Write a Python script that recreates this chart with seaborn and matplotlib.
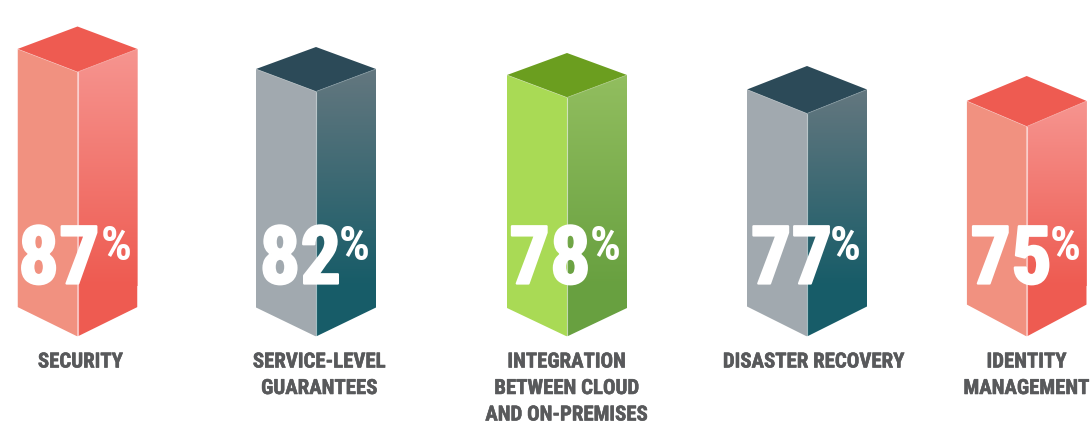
#!/usr/bin/env python3
import numpy as np
import pandas as pd
import seaborn as sns
import matplotlib.pyplot as plt
from matplotlib.colors import LinearSegmentedColormap
from matplotlib.patches import Polygon
from matplotlib import font_manager as fm
from matplotlib import patheffects as pe

# ====== Data ======
LABELS = ["SECURITY", "SERVICE-LEVEL\nGUARANTEES", "INTEGRATION\nBETWEEN CLOUD\nAND ON-PREMISES",
          "DISASTER RECOVERY", "IDENTITY\nMANAGEMENT"]
PERCENTS = [87, 82, 78, 77, 75]
# the columns in the picture are not strictly proportional, so heights are read off it
COLUMN_HEIGHTS = [264.5, 245, 239, 223, 210]
COLUMN_CENTERS = [77.5, 316, 567, 807, 1026.7]

# ====== Style ======
RED = ("#F19180", "#F69590", "#EE5B51", "#EE5B51")
SLATE = ("#A1A9AF", "#64777F", "#175C68", "#2C4A58")
GREEN = ("#A9DA55", "#92BE5F", "#68A040", "#6B9E1F")
COLORS = [RED, SLATE, GREEN, SLATE, RED]  # left face, right top, right bottom, lid
TEXT_COLOR = "#58595B"

FACE_W = 60
BOTTOM_RISES = [29.5, 29, 28.5, 30, 32]
TOP_RISES = [23, 22.5, 22.5, 24, 25.5]
GRADIENT_END = 50  # below this the right face has one colour
DIGIT_SHIFT = [22, 25, 23.5, 25, 25]
LABEL_SHIFT = [3, 3.5, 0, 7, 0]

sns.set_theme(style="white")
installed = {f.name for f in fm.fontManager.ttflist}
narrow = [n for n in ["Roboto Condensed", "Archivo Narrow", "Liberation Sans Narrow"] if n in installed]
plt.rcParams["font.family"] = narrow + ["Liberation Sans", "DejaVu Sans"]
size_k = 1.0 if narrow else 0.85

fig = plt.figure(figsize=(10.9, 4.29), dpi=100)
ax = fig.add_axes([0, 0, 1, 1])

centers = np.array(COLUMN_CENTERS)
heights = np.array(COLUMN_HEIGHTS)
top_rises = np.array(TOP_RISES)
rel_width = FACE_W / np.diff(centers).min()


def draw_faces(x_pos, colors):
    # one bar per column, clipped later to the slanted face
    before = len(ax.patches)
    df = pd.DataFrame({"x": x_pos, "h": heights + top_rises, "label": LABELS})
    sns.barplot(data=df, x="x", y="h", hue="label", palette=dict(zip(LABELS, colors)),
                native_scale=True, width=rel_width, dodge=False, saturation=1,
                legend=False, linewidth=0, ax=ax)
    return list(ax.patches)[before:]


left_bars = draw_faces(centers - FACE_W / 2, [c[0] for c in COLORS])
right_bars = draw_faces(centers + FACE_W / 2, [c[2] for c in COLORS])

for i, (cx, h, col) in enumerate(zip(centers, heights, COLORS)):
    rise_b, rise_t = BOTTOM_RISES[i], TOP_RISES[i]
    left_clip = Polygon([(cx - FACE_W, rise_b), (cx, 0), (cx, h), (cx - FACE_W, h + rise_t)],
                        transform=ax.transData)
    right_clip = Polygon([(cx + FACE_W, rise_b), (cx, 0), (cx, h), (cx + FACE_W, h + rise_t)],
                         transform=ax.transData)
    left_bars[i].set_clip_path(left_clip)
    right_bars[i].set_clip_path(right_clip)
    left_bars[i].set_snap(False)
    right_bars[i].set_snap(False)

    # gradient of the right face
    cmap = LinearSegmentedColormap.from_list("face", [col[1], col[2]])
    img = ax.imshow(np.linspace(0, 1, 256).reshape(-1, 1), cmap=cmap, aspect="auto", zorder=2,
                    extent=(cx, cx + FACE_W, GRADIENT_END, h + rise_t), origin="upper")
    img.set_clip_path(right_clip)

    # lid
    ax.fill([cx - FACE_W, cx, cx + FACE_W, cx], [h + rise_t, h, h + rise_t, h + 2 * rise_t - 0.5],
            color=col[3], lw=0, zorder=3)
    ax.plot([cx, cx], [0, h], color="white", lw=0.8, alpha=0.6, zorder=3)
    ax.plot([cx - FACE_W, cx, cx + FACE_W], [h + rise_t, h, h + rise_t],
            color="white", lw=0.5, alpha=0.4, zorder=3)

heavy = [pe.withStroke(linewidth=1.6, foreground="white")]
for i, (cx, pct, label) in enumerate(zip(centers, PERCENTS, LABELS)):
    ax.text(cx + DIGIT_SHIFT[i], 53, str(pct), color="white", fontsize=58 * size_k, fontweight="bold",
            ha="right", va="baseline", zorder=4, path_effects=heavy)
    ax.text(cx + 23, 76.5, "%", color="white", fontsize=35 * size_k, fontweight="bold",
            ha="left", va="baseline", zorder=4)
    ax.text(cx + LABEL_SHIFT[i], -16, label, color=TEXT_COLOR, fontsize=15 * size_k,
            fontweight="bold", ha="center", va="top", linespacing=1.5, zorder=4,
            path_effects=[pe.withStroke(linewidth=0.4, foreground=TEXT_COLOR)])

ax.set_xlim(0, 1090)
ax.set_ylim(336.5 - 429, 336.5)
ax.set_axis_off()

fig.savefig("out.png", dpi=100)
